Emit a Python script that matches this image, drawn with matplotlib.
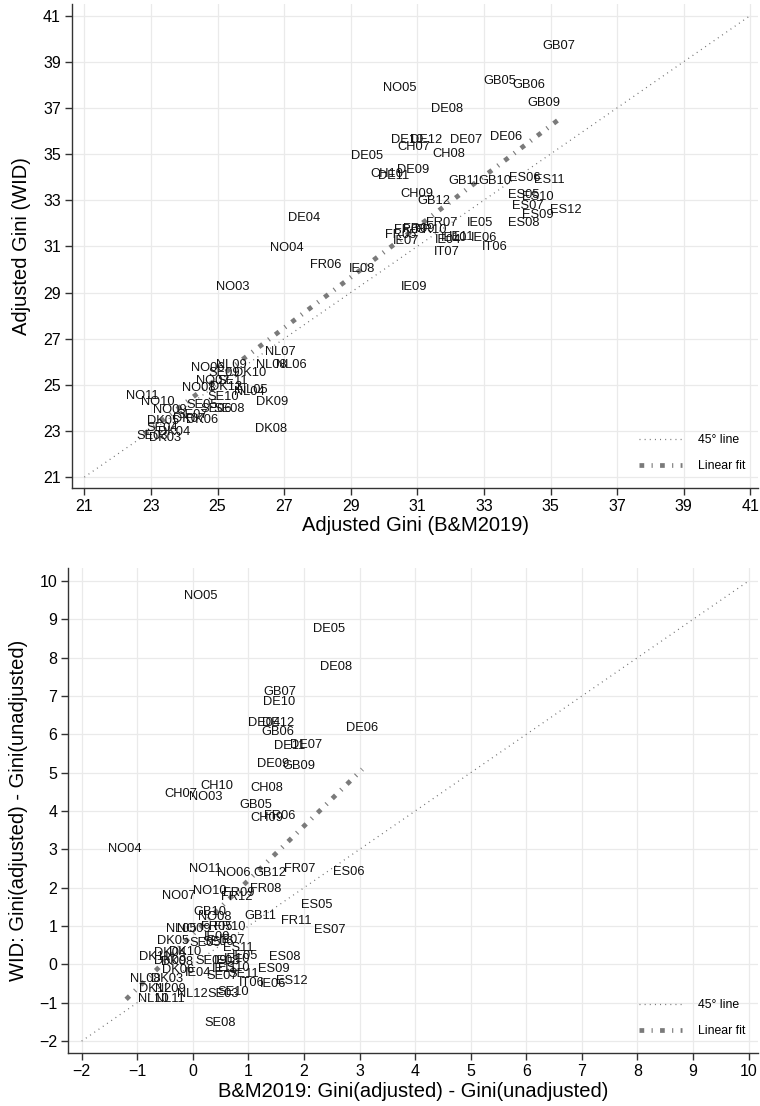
import numpy as np
import matplotlib
matplotlib.use("Agg")
import matplotlib.pyplot as plt
from matplotlib.lines import Line2D

plt.rcParams['font.family'] = ['Liberation Sans', 'DejaVu Sans']
plt.rcParams['lines.scale_dashes'] = False

# ---- top panel: adjusted Gini levels ----
top_labels = ["GB07", "NO05", "GB05", "GB06", "GB09", "DE08", "DE10", "DE12", "CH07", "DE07",
              "DE06", "CH08", "DE05", "CH10", "DE11", "DE09", "GB11", "GB10", "ES06", "ES11",
              "CH09", "GB12", "ES05", "ES10", "ES07", "ES12", "ES09", "ES08", "FR07", "IE05",
              "FR05", "FR08", "FR09", "FR10", "IE07", "IE04", "IE10", "IE11", "IE06", "IT06",
              "IT07", "IE09", "IE08", "DE04", "NO04", "FR06", "NO03", "NL07", "NL08", "NL06",
              "NO06", "NL09", "SE09", "DK10", "NO07", "SE11", "NO08", "DK12", "NL05", "NL04",
              "SE10", "DK09", "SE05", "SE06", "SE08", "SE07", "DK06", "DK07", "DK08", "NO11",
              "NO10", "NO09", "DK05", "SE04", "DK04", "SE03", "DK03"]
top_x = [35.25, 30.48, 33.48, 34.36, 34.81, 31.89, 30.68, 31.25, 30.88, 32.47,
         33.65, 31.95, 29.48, 30.10, 30.28, 30.88, 32.40, 33.33, 34.23, 34.96,
         31.00, 31.50, 34.20, 34.63, 34.33, 35.45, 34.63, 34.20, 31.73, 32.87,
         30.50, 30.78, 31.05, 31.40, 30.65, 31.93, 32.09, 32.34, 33.00, 33.31,
         31.88, 30.90, 29.33, 27.61, 27.08, 28.25, 25.46, 26.90, 26.63, 27.23,
         24.70, 25.43, 25.20, 25.98, 24.85, 25.45, 24.45, 25.25, 26.03, 25.95,
         25.17, 26.63, 24.55, 24.95, 25.35, 24.25, 24.55, 24.15, 26.60, 22.75,
         23.20, 23.57, 23.35, 23.35, 23.70, 23.05, 23.42]
top_y = [39.68, 37.87, 38.17, 38.01, 37.22, 36.94, 35.62, 35.62, 35.29, 35.62,
         35.74, 34.99, 34.91, 34.12, 34.04, 34.29, 33.83, 33.83, 33.96, 33.86,
         33.26, 32.96, 33.22, 33.13, 32.74, 32.58, 32.36, 32.02, 32.02, 32.02,
         31.47, 31.72, 31.75, 31.70, 31.22, 31.29, 31.38, 31.40, 31.36, 30.96,
         30.75, 29.26, 30.01, 32.24, 30.93, 30.20, 29.22, 26.41, 25.88, 25.88,
         25.71, 25.88, 25.51, 25.51, 25.15, 25.15, 24.87, 24.90, 24.79, 24.70,
         24.49, 24.26, 24.12, 23.94, 23.97, 23.68, 23.47, 23.50, 23.10, 24.51,
         24.26, 23.93, 23.45, 23.13, 22.96, 22.77, 22.70]
top_fit_x = [22.80, 35.38]
top_fit_y = [22.87, 36.64]
top_diag = [21, 41]

# ---- bottom panel: adjustment differences ----
bot_labels = ["NO05", "DE05", "DE08", "GB07", "DE10", "DE04", "DE12", "GB06", "DE06", "DE11",
              "DE07", "DE09", "GB09", "CH10", "CH07", "NO03", "CH08", "GB05", "FR06", "CH09",
              "NO04", "NO11", "NO06", "GB12", "FR07", "ES06", "NO07", "NO10", "FR09", "FR12",
              "FR08", "ES05", "GB10", "NO08", "GB11", "FR11", "ES07", "NL05", "NO09", "FR05",
              "FR10", "DK05", "SE05", "IE09", "SE06", "IE07", "ES11", "DK04", "DK10", "DK11",
              "IE05", "SE09", "IE08", "IE10", "ES08", "DK08", "DK09", "ES09", "IE11", "ES10",
              "DK06", "IE04", "SE07", "SE11", "ES12", "IT06", "IE06", "NL08", "DK03", "DK12",
              "NL09", "NL12", "NL10", "NL11", "SE03", "SE10", "SE08"]
bot_x = [0.14, 2.46, 2.57, 1.56, 1.56, 1.28, 1.54, 1.53, 3.04, 1.74,
         2.04, 1.44, 1.90, 0.44, -0.22, 0.23, 1.34, 1.13, 1.57, 1.34,
         -1.23, 0.23, 0.74, 1.38, 1.93, 2.80, -0.26, 0.31, 0.82, 0.79,
         1.32, 2.23, 0.30, 0.40, 1.21, 1.87, 2.46, -0.21, 0.02, 0.43,
         0.67, -0.35, 0.22, 0.43, 0.46, 0.70, 0.82, -0.41, -0.14, -0.68,
         0.94, 0.34, 0.61, 0.79, 1.65, -0.29, -0.41, 1.45, 0.58, 0.73,
         -0.26, 0.10, 0.52, 0.91, 1.78, 1.06, 1.44, -0.86, -0.47, -0.68,
         -0.41, 0.00, -0.71, -0.41, 0.55, 0.73, 0.50]
bot_y = [9.61, 8.74, 7.77, 7.10, 6.84, 6.29, 6.30, 6.06, 6.16, 5.71,
         5.73, 5.23, 5.17, 4.66, 4.44, 4.37, 4.60, 4.16, 3.87, 3.81,
         3.02, 2.48, 2.38, 2.39, 2.48, 2.41, 1.78, 1.91, 1.87, 1.77,
         1.98, 1.55, 1.37, 1.23, 1.26, 1.13, 0.90, 0.93, 0.93, 0.97,
         0.97, 0.61, 0.57, 0.72, 0.58, 0.64, 0.43, 0.30, 0.32, 0.19,
         0.23, 0.10, 0.10, 0.15, 0.19, 0.06, 0.10, -0.11, -0.13, -0.09,
         -0.15, -0.23, -0.29, -0.24, -0.43, -0.48, -0.52, -0.37, -0.39, -0.63,
         -0.65, -0.76, -0.89, -0.89, -0.78, -0.72, -1.54]
bot_fit_x = [-1.20, 3.05]
bot_fit_y = [-0.91, 5.09]
bot_diag = [-2, 10]

line_gray = '#7a7a7a'
diag_style = dict(color='#6e6e6e', lw=0.9, dashes=(0.7, 3.0))
fit_style = dict(color=line_gray, lw=3.4, dashes=(3.4, 5.3, 0.8, 5.3), solid_capstyle='butt')


def style_axes(ax):
    for s in ['top', 'right']:
        ax.spines[s].set_visible(False)
    for s in ['left', 'bottom']:
        ax.spines[s].set_color('#333333')
        ax.spines[s].set_linewidth(1.0)
    ax.tick_params(direction='out', length=5, width=1, color='#333333',
                   labelsize=11.5, pad=3)
    ax.grid(True, color='#eaeaea', lw=0.9)
    ax.set_axisbelow(True)


def draw_panel(ax, labels, xs, ys, diag, fit_x, fit_y):
    ax.plot(diag, diag, **diag_style, zorder=2)
    ax.plot(fit_x, fit_y, **fit_style, zorder=3)
    for lab, x, y in zip(labels, xs, ys):
        ax.text(x, y, lab, fontsize=9.3, ha='center', va='center', color='#111111', zorder=4)
    handles = [Line2D([0], [0], **diag_style), Line2D([0], [0], **fit_style)]
    ax.legend(handles, ['45° line', 'Linear fit'], loc='lower right',
              bbox_to_anchor=(0.981, 0.033), frameon=False, fontsize=8.8,
              handlelength=3.5, handletextpad=1.3, labelspacing=1.15,
              borderpad=0, borderaxespad=0)


fig = plt.figure(figsize=(7.6, 11.06), dpi=100)

ax1 = fig.add_axes([72 / 760, 1 - 488 / 1106, 686 / 760, 484 / 1106])
style_axes(ax1)
draw_panel(ax1, top_labels, top_x, top_y, top_diag, top_fit_x, top_fit_y)
ax1.set_xlim(20.63, 41.23)
ax1.set_ylim(20.53, 41.50)
ax1.set_xticks(np.arange(21, 42, 2))
ax1.set_yticks(np.arange(21, 42, 2))
ax1.set_xlabel('Adjusted Gini (B&M2019)', fontsize=14.5)
ax1.set_ylabel('Adjusted Gini (WID)', fontsize=14.5)
ax1.xaxis.set_label_coords(0.5, -0.058)
ax1.yaxis.set_label_coords(-0.06, 0.5)

ax2 = fig.add_axes([68.3 / 760, 1 - 1053 / 1106, 689.7 / 760, 485 / 1106])
style_axes(ax2)
draw_panel(ax2, bot_labels, bot_x, bot_y, bot_diag, bot_fit_x, bot_fit_y)
ax2.set_xlim(-2.24, 10.17)
ax2.set_ylim(-2.31, 10.34)
ax2.set_xticks(np.arange(-2, 11, 1))
ax2.set_yticks(np.arange(-2, 11, 1))
ax2.set_xlabel('B&M2019: Gini(adjusted) - Gini(unadjusted)', fontsize=14.5)
ax2.set_ylabel('WID: Gini(adjusted) - Gini(unadjusted)', fontsize=14.5)
ax2.xaxis.set_label_coords(0.5, -0.059)
ax2.yaxis.set_label_coords(-0.058, 0.5)

fig.savefig('out.png', dpi=100)
